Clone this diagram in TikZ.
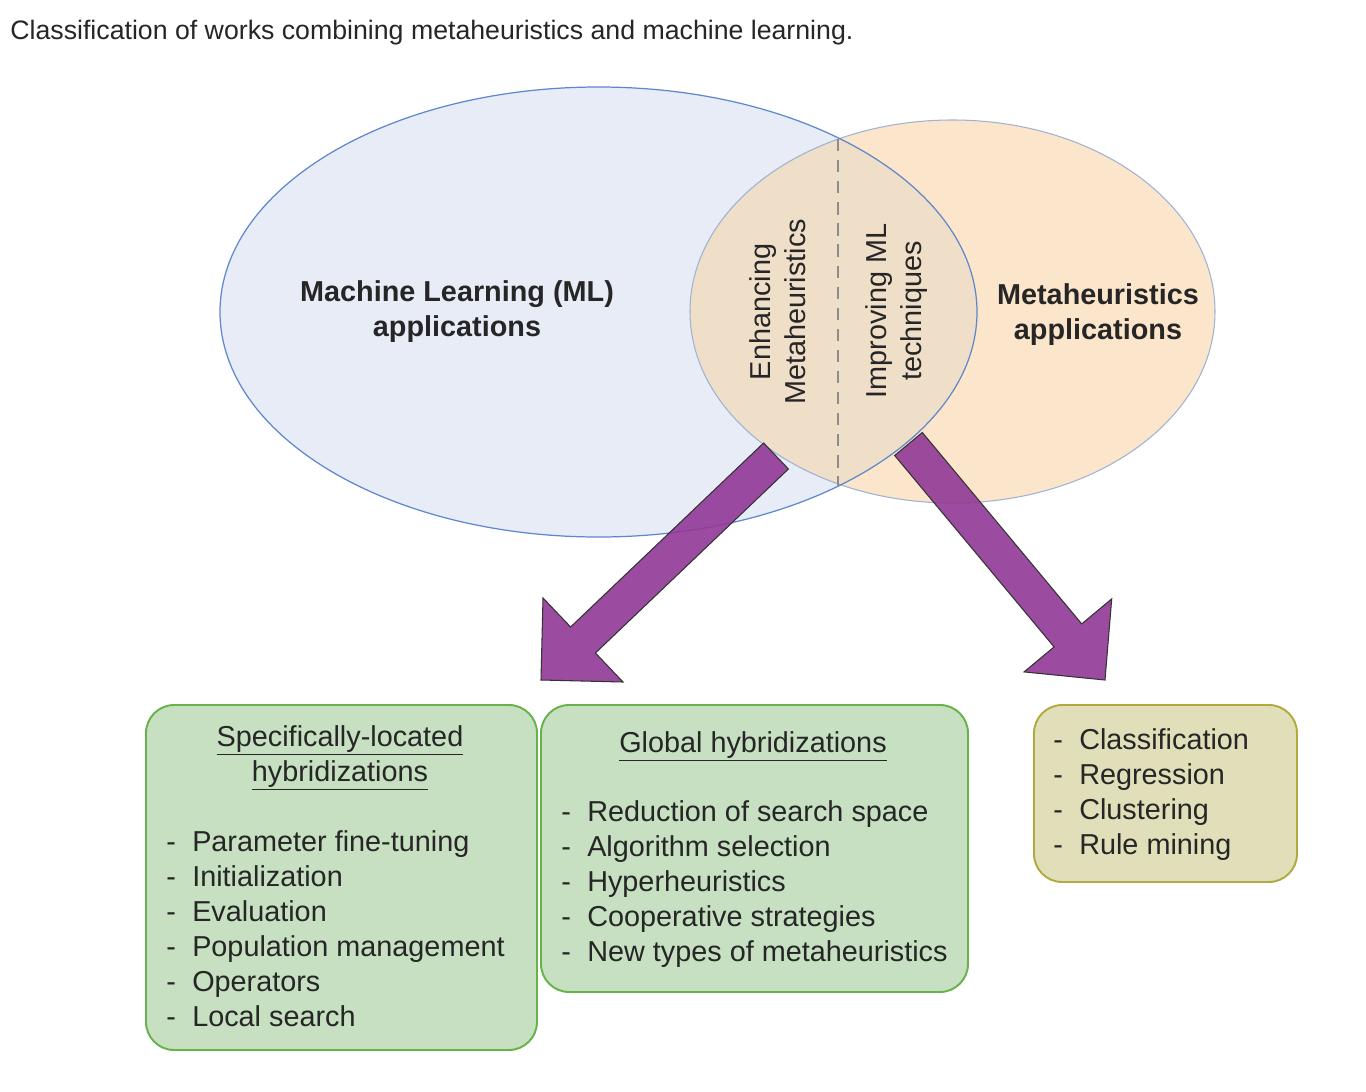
\documentclass[tikz,border=0pt]{standalone}
\usepackage{fontspec}
\setmainfont{Liberation Sans}
\definecolor{mlfill}{RGB}{231,236,247}
\definecolor{mlline}{RGB}{95,135,205}
\definecolor{mhfill}{RGB}{252,230,203}
\definecolor{mhline}{RGB}{160,178,212}
\definecolor{lensfill}{RGB}{239,222,200}
\definecolor{arrowfill}{RGB}{145,56,150}
\definecolor{hybfill}{RGB}{198,224,193}
\definecolor{hybline}{RGB}{104,178,74}
\definecolor{mlbfill}{RGB}{224,223,186}
\definecolor{mlbline}{RGB}{178,170,62}
\newcommand\itemdash{\makebox[0.9em][l]{-}}

\begin{document}
\begin{tikzpicture}[x=0.02cm,y=-0.02cm,
    txt/.style={text=black!85,inner sep=0pt,font=\fontsize{16.4}{19.9}\selectfont},
    bold/.style={txt,font=\fontsize{16.4}{19.9}\selectfont\bfseries,align=center},
    listitem/.style={txt,anchor=base west},
    bigarrow/.style={fill=arrowfill,fill opacity=0.9,draw=black!80,line width=0.6pt,line join=miter},
    hybbox/.style={fill=hybfill,draw=hybline,line width=1.1pt,rounded corners=16pt},
    mlbox/.style={fill=mlbfill,draw=mlbline,line width=1.1pt,rounded corners=16pt}]
  \useasboundingbox[fill=white] (0,0) rectangle (1366,1092);

  % title
  \node[txt,anchor=base west,font=\fontsize{15.2}{18}\selectfont] (title) at (10,39)
    {Classification of works combining metaheuristics and machine learning.};

  % the two sets
  \fill[mlfill] (598.5,312) ellipse [x radius=378.5,y radius=225];
  \fill[mhfill] (952.5,311.5) ellipse [x radius=262.5,y radius=191.5];
  \begin{scope}
    \clip (952.5,311.5) ellipse [x radius=262.5,y radius=191.5];
    \fill[lensfill] (598.5,312) ellipse [x radius=378.5,y radius=225];
  \end{scope}
  \draw[mhline,line width=0.6pt] (952.5,311.5) ellipse [x radius=262.5,y radius=191.5];
  \draw[mlline,line width=0.7pt] (598.5,312) ellipse [x radius=378.5,y radius=225];
  \draw[black!45,line width=0.9pt,dash pattern=on 7pt off 5pt] (838,139) -- (838,486);

  \node[bold] (ml) at (457,312) {Machine Learning (ML)\\applications};
  \node[bold] (mh) at (1098,315) {Metaheuristics\\applications};
  \node[txt,align=center,rotate=90] (enh) at (778,312) {Enhancing\\Metaheuristics};
  \node[txt,align=center,rotate=90] (imp) at (897,311) {Improving ML\\techniques};

  % block arrows
  \draw[bigarrow] (763.6,443) -- (570.6,627) -- (543,598) -- (541,680)
    -- (623,682) -- (595.4,653) -- (788.4,469) -- cycle;
  \draw[bigarrow] (922.3,432.5) -- (1081.7,623.9) -- (1111.7,598.9) -- (1105,680)
    -- (1024.1,671.9) -- (1054.1,646.9) -- (894.7,455.5) -- cycle;

  % boxes
  \draw[hybbox] (146,705) rectangle (537,1050);
  \draw[hybbox] (541,705) rectangle (968,992);
  \draw[mlbox] (1034,705) rectangle (1297,882);

  \node[txt,anchor=base] (sl-a) at (340,746) {\underline{Specifically-located}};
  \node[txt,anchor=base] (sl-b) at (340,781) {\underline{hybridizations}};
  \foreach \t [count=\i] in {Parameter fine-tuning,Initialization,Evaluation,
      Population management,Operators,Local search}
    \node[listitem] (sl\i) at (166,816+35*\i) {\itemdash\t};

  \node[txt,anchor=base] (gl) at (753,752) {\underline{Global hybridizations}};
  \foreach \t [count=\i] in {Reduction of search space,Algorithm selection,
      Hyperheuristics,Cooperative strategies,New types of metaheuristics}
    \node[listitem] (gl\i) at (561,786+35*\i) {\itemdash\t};

  \foreach \t [count=\i] in {Classification,Regression,Clustering,Rule mining}
    \node[listitem] (mt\i) at (1053,714+35*\i) {\itemdash\t};
\end{tikzpicture}
\end{document}
